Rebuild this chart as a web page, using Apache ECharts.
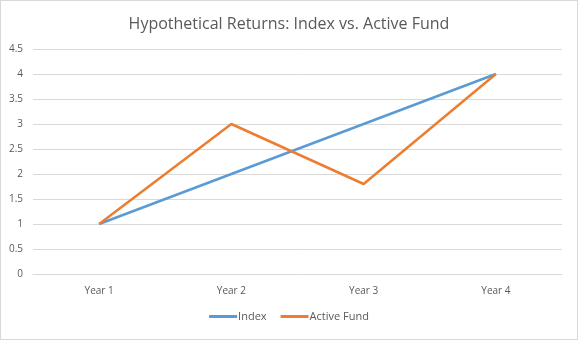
<!DOCTYPE html>
<html>
<head>
<meta charset="utf-8">
<script src="https://cdn.jsdelivr.net/npm/echarts@6/dist/echarts.min.js"></script>
<style>
  html, body { margin: 0; padding: 0; background: #fff; }
  #chart { width: 576px; height: 338px; border: 1px solid #d9d9d9; }
</style>
</head>
<body>
<div id="chart"></div>
<script>
const years = ['Year 1', 'Year 2', 'Year 3', 'Year 4'];
const indexValues = [1, 2, 3, 4];
const activeFundValues = [1, 3, 1.8, 4];

const FONT = '"Open Sans", "Liberation Sans", sans-serif';
const chart = echarts.init(document.getElementById('chart'));
chart.setOption({
  animation: false,
  textStyle: { fontFamily: FONT },
  title: {
    text: 'Hypothetical Returns: Index vs. Active Fund',
    left: 'center',
    top: 10,
    textStyle: { fontFamily: FONT, fontSize: 16, fontWeight: 'normal', color: '#595959' }
  },
  legend: {
    bottom: 12,
    left: 'center',
    itemWidth: 28,
    itemHeight: 3,
    itemGap: 14,
    icon: 'rect',
    textStyle: { fontFamily: FONT, fontSize: 11, color: '#595959', padding: [0, 0, 0, -4] },
    data: ['Index', 'Active Fund']
  },
  grid: { left: 32, right: 15, top: 48, bottom: 65 },
  xAxis: {
    type: 'category',
    data: years,
    boundaryGap: true,
    axisLine: { show: true, lineStyle: { color: '#d9d9d9' } },
    axisTick: { show: false },
    axisLabel: { fontFamily: FONT, fontSize: 10, color: '#595959', margin: 12 }
  },
  yAxis: {
    type: 'value',
    min: 0,
    max: 4.5,
    interval: 0.5,
    axisLine: { show: false },
    axisTick: { show: false },
    axisLabel: { fontFamily: FONT, fontSize: 10, color: '#595959', margin: 10 },
    splitLine: { lineStyle: { color: '#d9d9d9' } }
  },
  series: [
    {
      name: 'Index',
      type: 'line',
      data: indexValues,
      symbol: 'none',
      lineStyle: { color: '#5b9bd5', width: 2.5 },
      itemStyle: { color: '#5b9bd5' }
    },
    {
      name: 'Active Fund',
      type: 'line',
      data: activeFundValues,
      symbol: 'none',
      lineStyle: { color: '#ed7d31', width: 2.5 },
      itemStyle: { color: '#ed7d31' }
    }
  ]
});
</script>
</body>
</html>
